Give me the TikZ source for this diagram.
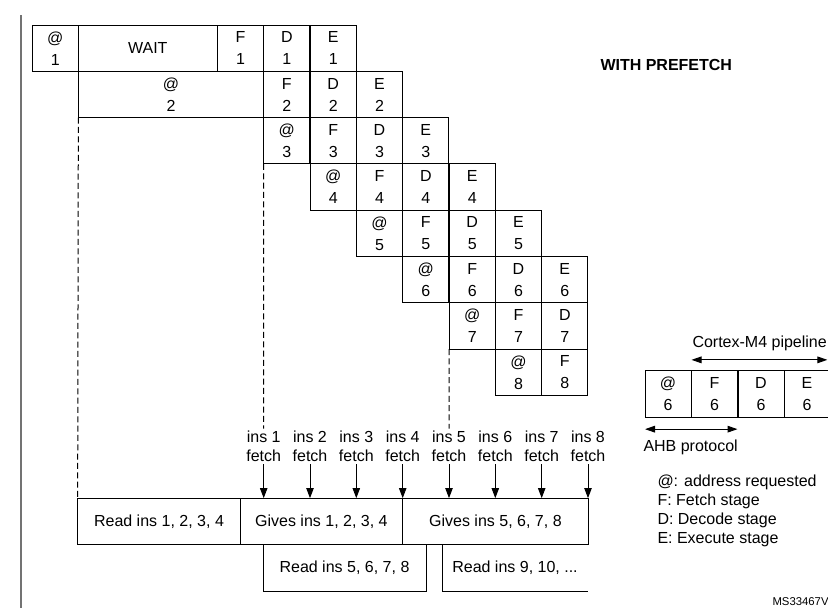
\documentclass[tikz,border=0pt]{standalone}
\usepackage{fontspec}
\setmainfont{Liberation Sans}
\usepackage{tikz}
\usetikzlibrary{calc,positioning,arrows.meta}
\tikzset{cell/.style={draw,rectangle,minimum width=34.75pt,minimum height=34.73pt,inner
sep=0pt,outer sep=0pt,align=center,font=\fontsize{12}{16.5}\selectfont},box/.style={draw,rectangle,minimum
height=35pt,inner sep=0pt,outer sep=0pt,font=\fontsize{12}{15}\selectfont}}

\begin{document}
\begin{tikzpicture}[x=0.75pt,y=-0.75pt,line width=0.75pt,lbl/.style={inner sep=0pt,font=\fontsize{12}{15}\selectfont},ins/.style={inner sep=1.5pt,align=center,font=\fontsize{12}{14.25}\selectfont},tip/.style={-{Triangle[width=5.5pt,length=7.5pt]}},both/.style={{Triangle[width=5pt,length=7.5pt]}-{Triangle[width=5pt,length=7.5pt]}},guide/.style={dash pattern=on 4.5pt off 2.5pt}]
			\useasboundingbox (0,0) rectangle (828,608);
			\draw[black!55,line width=1.2pt] (21,15) -- (21,608);

			% pipeline rows
			\node[cell] (a1) at (55.2,48.2) {@\\1};
			\node[cell,minimum width=104.25pt] (w1) at (147.8,48.2) {WAIT};
			\node[cell] (f1) at (240.5,48.2) {F\\1};
			\node[cell] (d1) at (286.8,48.2) {D\\1};
			\node[cell] (e1) at (333.2,48.2) {E\\1};

			\node[cell,minimum width=139pt] (a2) at (171,94.5) {@\\2};
			\node[cell] (f2) at (286.8,94.5) {F\\2};
			\node[cell] (d2) at (333.2,94.5) {D\\2};
			\node[cell] (e2) at (379.5,94.5) {E\\2};

			\node[cell] (a3) at (286.8,140.8) {@\\3};
			\node[cell] (f3) at (333.2,140.8) {F\\3};
			\node[cell] (d3) at (379.5,140.8) {D\\3};
			\node[cell] (e3) at (425.8,140.8) {E\\3};

			\node[cell] (a4) at (333.2,187.1) {@\\4};
			\node[cell] (f4) at (379.5,187.1) {F\\4};
			\node[cell] (d4) at (425.8,187.1) {D\\4};
			\node[cell] (e4) at (472.2,187.1) {E\\4};

			\node[cell] (a5) at (379.5,233.4) {@\\5};
			\node[cell] (f5) at (425.8,233.4) {F\\5};
			\node[cell] (d5) at (472.2,233.4) {D\\5};
			\node[cell] (e5) at (518.5,233.4) {E\\5};

			\node[cell] (a6) at (425.8,279.7) {@\\6};
			\node[cell] (f6) at (472.2,279.7) {F\\6};
			\node[cell] (d6) at (518.5,279.7) {D\\6};
			\node[cell] (e6) at (564.8,279.7) {E\\6};

			\node[cell] (a7) at (472.2,326) {@\\7};
			\node[cell] (f7) at (518.5,326) {F\\7};
			\node[cell] (d7) at (564.8,326) {D\\7};

			\node[cell] (a8) at (518.5,372.3) {@\\8};
			\node[cell] (f8) at (564.8,372.3) {F\\8};

			% fetch labels
			\node[ins] (i1) at (263.7,446.5) {ins 1\\fetch};
			\node[ins] (i2) at (310,446.5) {ins 2\\fetch};
			\node[ins] (i3) at (356.3,446.5) {ins 3\\fetch};
			\node[ins] (i4) at (402.7,446.5) {ins 4\\fetch};
			\node[ins] (i5) at (449,446.5) {ins 5\\fetch};
			\node[ins] (i6) at (495.3,446.5) {ins 6\\fetch};
			\node[ins] (i7) at (541.7,446.5) {ins 7\\fetch};
			\node[ins] (i8) at (588,446.5) {ins 8\\fetch};

			% memory side
			\node[box,minimum width=122pt] (read1) at (159,521.5) {Read ins 1, 2, 3, 4};
			\node[box,minimum width=122pt] (gives1) at (321.4,521.5) {Gives ins 1, 2, 3, 4};
			\node[box,minimum width=139pt] (gives2) at (495.4,521.5) {Gives ins 5, 6, 7, 8};
			\node[box,minimum width=122.25pt] (read2) at (344.5,568.2) {Read ins 5, 6, 7, 8};
			\node[box,draw=none,minimum width=109.5pt] (read3) at (515,568.2) {Read ins 9, 10, ...};
			\draw (read3.north east) -- (read3.north west) -- (read3.south west) -- (read3.south east);

			\draw[guide] (a2.south west) -- (read1.north west);
			\draw[guide] (a3.south west) -- (i1.north);
			\draw[guide] (a7.south west) -- (i5.north);
			\draw[tip] (i1.south) -- (i1.south |- gives1.north);
			\draw[tip] (i2.south) -- (i2.south |- gives1.north);
			\draw[tip] (i3.south) -- (i3.south |- gives1.north);
			\draw[tip] (i4.south) -- (i4.south |- gives1.north);
			\draw[tip] (i5.south) -- (i5.south |- gives2.north);
			\draw[tip] (i6.south) -- (i6.south |- gives2.north);
			\draw[tip] (i7.south) -- (i7.south |- gives2.north);
			\draw[tip] (i8.south) -- (i8.south |- gives2.north);

			% key
			\node[lbl,anchor=west,font=\fontsize{12}{15}\bfseries] (title) at (600,65) {WITH PREFETCH};
			\node[cell,minimum width=34.5pt] (pa) at (668,394) {@\\6};
			\node[cell,minimum width=34.5pt] (pf) at (714.5,394) {F\\6};
			\node[cell,minimum width=34.5pt] (pd) at (761,394) {D\\6};
			\node[cell,minimum width=34.5pt] (pe) at (807,394) {E\\6};
			\draw[both] ([yshift=8.25pt]pf.north west) -- ([yshift=8.25pt,xshift=-2pt]pe.north east);
			\draw[both] ([yshift=-9pt]pa.south west) -- ([yshift=-9pt]pf.south east);
			\node[lbl,anchor=west] (cortex) at (692,343) {Cortex-M4 pipeline};
			\node[lbl,anchor=west] (ahb) at (643,447) {AHB protocol};
			\node[lbl,anchor=west,align=left,font=\fontsize{12}{14.25}\selectfont] (legend) at (657,510.5) {@: address requested\\F: Fetch stage\\D: Decode stage\\E: Execute stage};
			\node[lbl,anchor=west,font=\fontsize{8.5}{10}\selectfont] (ms) at (772,602) {MS33467V1};
		\end{tikzpicture}
\end{document}
